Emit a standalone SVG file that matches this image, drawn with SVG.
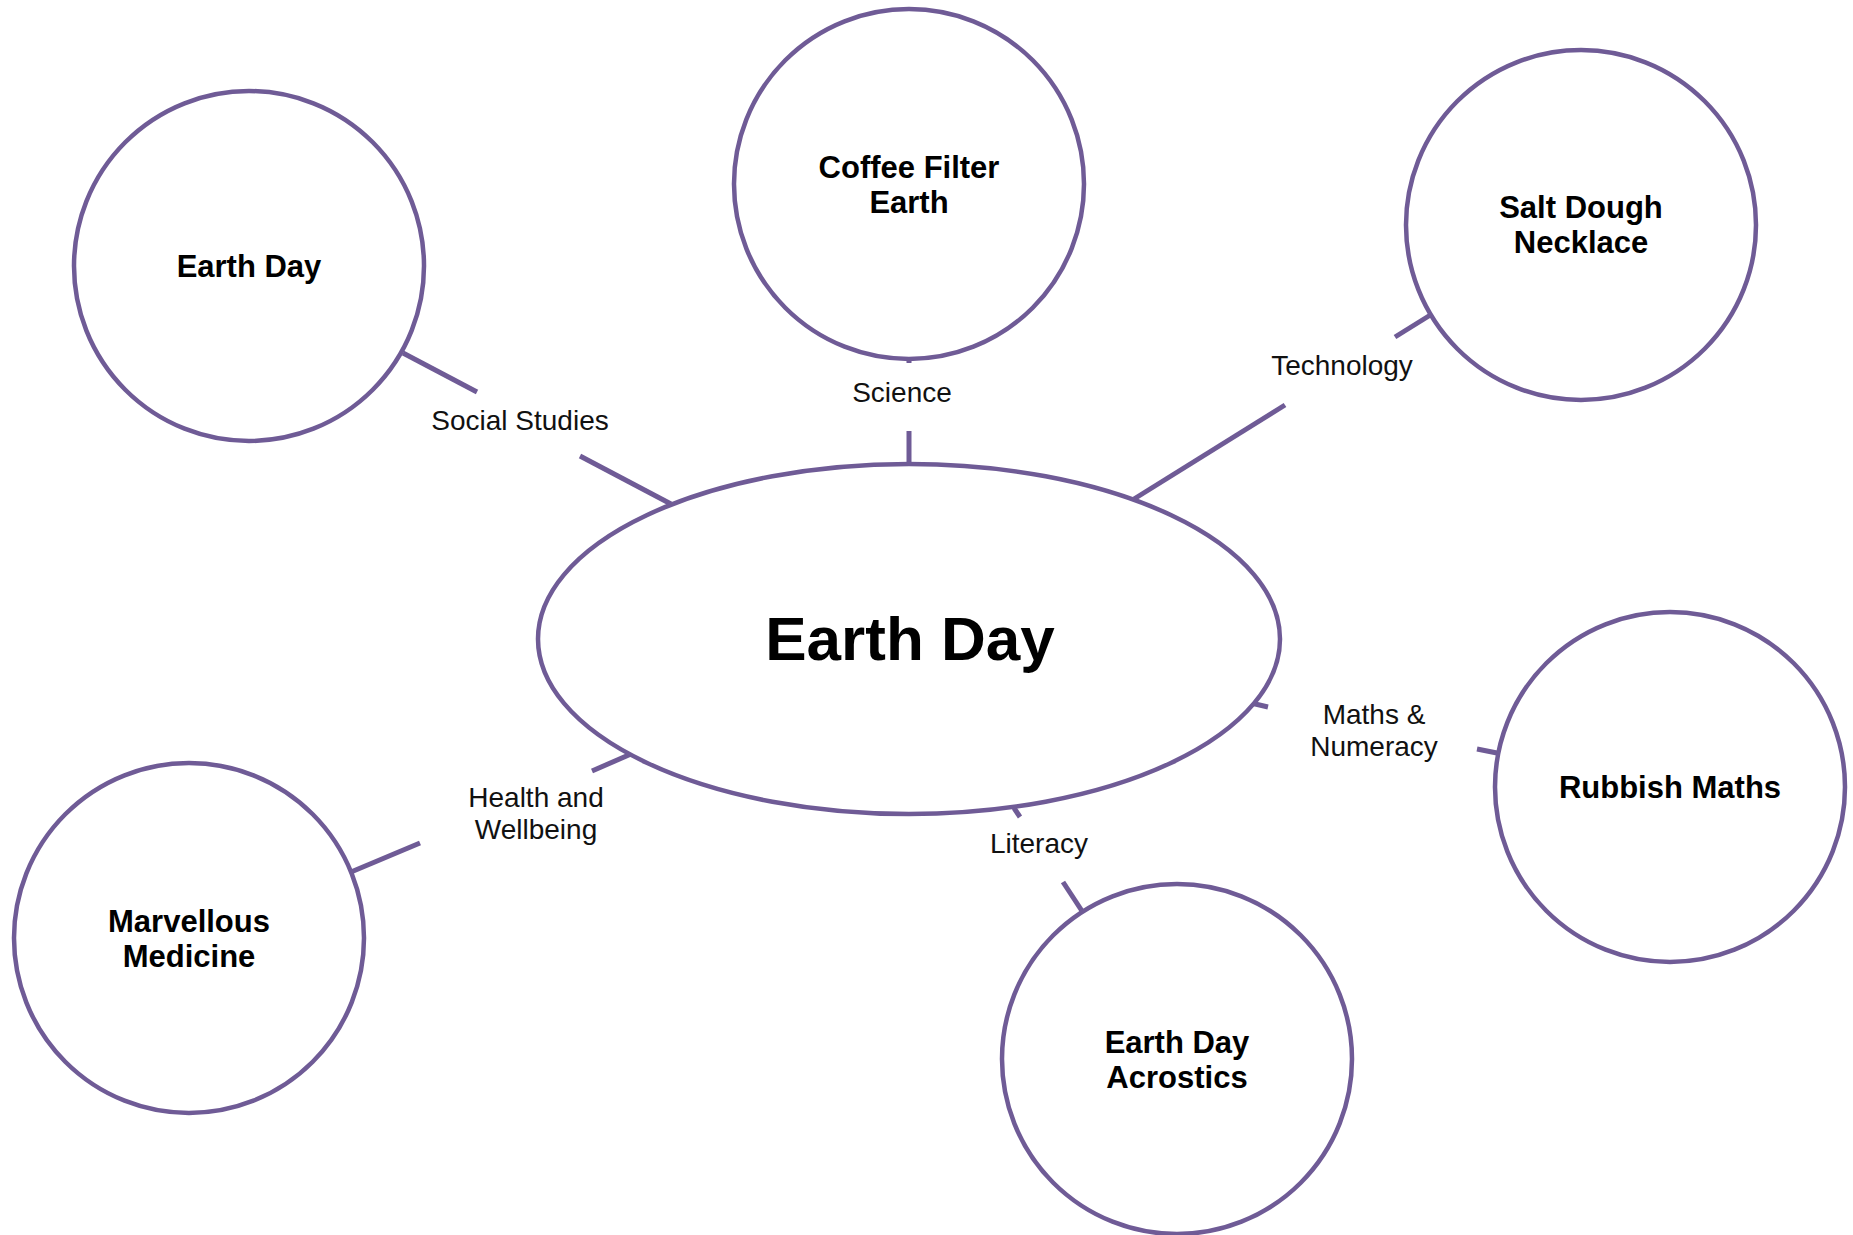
<svg xmlns="http://www.w3.org/2000/svg" width="1853" height="1235" viewBox="0 0 1853 1235">
<style>
.node{fill:#fff;stroke:#6f5b96;stroke-width:4.5}
.conn{stroke:#6f5b96;stroke-width:5;fill:none}
.lbl{font-family:"Liberation Sans",Arial,sans-serif;font-size:28px;fill:#111;text-anchor:middle}
.nt{font-family:"Liberation Sans",Arial,sans-serif;font-size:31px;font-weight:bold;fill:#000;text-anchor:middle}
.ct{font-family:"Liberation Sans",Arial,sans-serif;font-size:62px;font-weight:bold;fill:#000;text-anchor:middle}
</style>
<rect width="1853" height="1235" fill="#fff"/>
<g id="connectors">
<line class="conn" x1="403" y1="353" x2="477" y2="392"/>
<line class="conn" x1="580" y1="456" x2="671" y2="504"/>
<text class="lbl" x="520" y="430">Social Studies</text>
<line class="conn" x1="909" y1="357" x2="909" y2="363"/>
<line class="conn" x1="909" y1="431" x2="909" y2="465"/>
<text class="lbl" x="902" y="402">Science</text>
<line class="conn" x1="1432" y1="314" x2="1395" y2="337"/>
<line class="conn" x1="1285" y1="405" x2="1134" y2="499"/>
<text class="lbl" x="1342" y="375">Technology</text>
<line class="conn" x1="1251" y1="703" x2="1268" y2="707"/>
<line class="conn" x1="1477" y1="749" x2="1497" y2="753"/>
<text class="lbl" x="1374" y="724">Maths &amp;</text>
<text class="lbl" x="1374" y="756">Numeracy</text>
<line class="conn" x1="1014" y1="808" x2="1020" y2="817"/>
<line class="conn" x1="1063" y1="882" x2="1082" y2="911"/>
<text class="lbl" x="1039" y="853">Literacy</text>
<line class="conn" x1="631" y1="754" x2="592" y2="771"/>
<line class="conn" x1="420" y1="843" x2="351" y2="872"/>
<text class="lbl" x="536" y="807">Health and</text>
<text class="lbl" x="536" y="839">Wellbeing</text>
</g>
<g id="center">
<ellipse class="node" cx="909" cy="639" rx="371" ry="175"/>
<text class="ct" x="910" y="660">Earth Day</text>
</g>
<g id="earthday">
<circle class="node" cx="249" cy="266" r="175"/>
<text class="nt" x="249" y="277">Earth Day</text>
</g>
<g id="coffee">
<circle class="node" cx="909" cy="184" r="175"/>
<text class="nt" x="909" y="178">Coffee Filter</text>
<text class="nt" x="909" y="213">Earth</text>
</g>
<g id="saltdough">
<circle class="node" cx="1581" cy="225" r="175"/>
<text class="nt" x="1581" y="218">Salt Dough</text>
<text class="nt" x="1581" y="253">Necklace</text>
</g>
<g id="rubbish">
<circle class="node" cx="1670" cy="787" r="175"/>
<text class="nt" x="1670" y="798">Rubbish Maths</text>
</g>
<g id="acrostics">
<circle class="node" cx="1177" cy="1059" r="175"/>
<text class="nt" x="1177" y="1053">Earth Day</text>
<text class="nt" x="1177" y="1088">Acrostics</text>
</g>
<g id="medicine">
<circle class="node" cx="189" cy="938" r="175"/>
<text class="nt" x="189" y="932">Marvellous</text>
<text class="nt" x="189" y="967">Medicine</text>
</g>
</svg>
